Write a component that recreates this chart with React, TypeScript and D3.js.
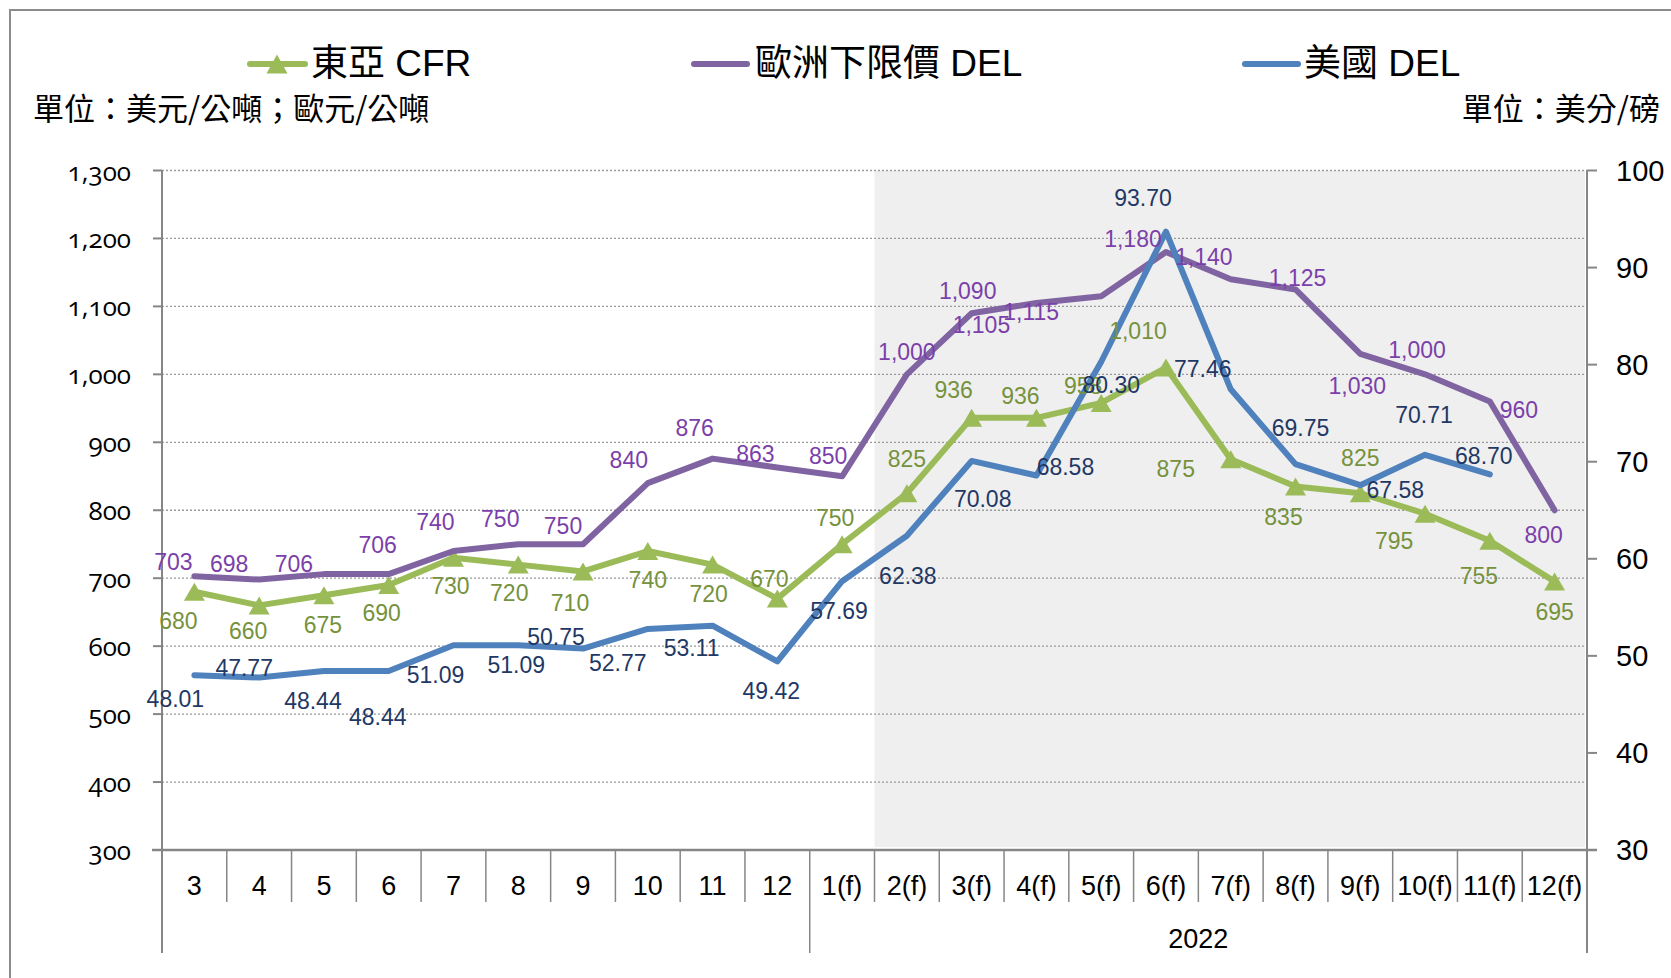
import * as d3 from "d3";

const categories = ["3", "4", "5", "6", "7", "8", "9", "10", "11", "12",
  "1(f)", "2(f)", "3(f)", "4(f)", "5(f)", "6(f)", "7(f)", "8(f)", "9(f)", "10(f)", "11(f)", "12(f)"];

// 東亞 CFR (left axis, USD/t)
const eastAsiaCFR = [680, 660, 675, 690, 730, 720, 710, 740, 720, 670,
  750, 825, 936, 936, 958, 1010, 875, 835, 825, 795, 755, 695];

// 歐洲下限價 DEL (left axis, EUR/t)
const europeDEL = [703, 698, 706, 706, 740, 750, 750, 840, 876, 863,
  850, 1000, 1090, 1105, 1115, 1180, 1140, 1125, 1030, 1000, 960, 800];

// 美國 DEL (right axis, cents/lb)
const usDEL: (number | null)[] = [48.01, 47.77, 48.44, 48.44, 51.09, 51.09, 50.75, 52.77, 53.11, 49.42,
  57.69, 62.38, 70.08, 68.58, 80.3, 93.7, 77.46, 69.75, 67.58, 70.71, 68.7, null];

const leftTicks = [300, 400, 500, 600, 700, 800, 900, 1000, 1100, 1200, 1300];
const rightTicks = [30, 40, 50, 60, 70, 80, 90, 100];
const yearLabel = "2022";
const forecastStart = "2(f)";

// label nudges (px) relative to each point, as placed in the original chart
const greenLabelPos = [[-16, 29], [-11, 26], [-1, 30], [-7, 28], [-3, 28], [-9, 28], [-13, 32], [0, 29], [-4, 29], [-8, -20],
  [-7, -26], [0, -34], [-18, -28], [-16, -22], [-18, -17], [-28, -37], [-55, 10], [-12, 31], [0, -35], [-31, 27], [-11, 35], [0, 30]];
const purpleLabelPos = [[-21, -14], [-30, -16], [-30, -10], [-11, -29], [-18, -29], [-18, -25], [-20, -18], [-19, -23], [-18, -31], [-22, -13],
  [-14, -20], [0, -22], [-4, -22], [-55, 22], [-70, 16], [-33, -13], [-27, -22], [2, -11], [-3, 32], [-8, -24], [29, 8], [-11, 25]];
const blueLabelPos = [[-19, 24], [-15, -10], [-11, 30], [-11, 46], [-18, 30], [-2, 20], [-27, -12], [-30, 34], [-21, 22], [-6, 30],
  [-3, 30], [1, 40], [11, 38], [29, -8], [10, 23], [-23, -34], [-28, -20], [5, -36], [35, 5], [-1, -40], [-6, -18], [0, 0]];

const W = 1671;
const H = 978;
const left = 162;
const right = 1587;
const top = 170.5;
const bottom = 850;

const GREEN = "#9BBB59";
const PURPLE = "#8064A2";
const BLUE = "#4F81BD";
const AXIS = "#868686";
const LATIN = "'Liberation Sans', Arial, 'Noto Sans CJK TC', sans-serif";
const CJK = "'Noto Sans CJK TC', 'Liberation Sans', sans-serif";

function triangle(cx: number, cy: number, w: number, h: number) {
  return `M${cx},${cy - h / 2}L${cx + w / 2},${cy + h / 2}L${cx - w / 2},${cy + h / 2}Z`;
}

export default function App() {
  const x = d3.scaleBand<string>().domain(categories).range([left, right]).padding(0);
  const cx = (c: string) => (x(c) ?? 0) + x.bandwidth() / 2;
  const yL = d3.scaleLinear().domain([300, 1300]).range([bottom, top]);
  const yR = d3.scaleLinear().domain([30, 100]).range([bottom, top]);

  const lineL = d3.line<number>().x((_, i) => cx(categories[i])).y(d => yL(d));
  const lineR = d3.line<number | null>()
    .defined(d => d != null)
    .x((_, i) => cx(categories[i]))
    .y(d => yR(d as number));

  const bounds = d3.range(categories.length + 1).map(k => left + k * x.bandwidth());
  const shadeX = x(forecastStart) ?? 0;
  const fmt = d3.format(",");

  return (
    <svg width={W} height={H} style={{ position: "absolute", left: 0, top: 0, display: "block", background: "#fff" }}>
      {/* outer frame */}
      <rect x={10} y={10} width={W + 20} height={H + 20} fill="none" stroke="#8c8c8c" strokeWidth={2} />

      {/* forecast shade */}
      <rect x={shadeX} y={top} width={right - shadeX - 2} height={bottom - top - 3} fill="#EFEFEF" />

      {/* gridlines */}
      {leftTicks.slice(1).map(t => (
        <line key={t} x1={left} x2={right} y1={yL(t)} y2={yL(t)} stroke="#9a9a9a" strokeWidth={1.3} strokeDasharray="2,2" />
      ))}

      {/* left axis */}
      <line x1={left} x2={left} y1={top} y2={953} stroke={AXIS} strokeWidth={2} />
      {leftTicks.map(t => (
        <g key={t}>
          <line x1={left - 9} x2={left} y1={yL(t)} y2={yL(t)} stroke={AXIS} strokeWidth={2} />
          <text x={131} y={yL(t)} textAnchor="end" dominantBaseline="central"
            style={{ fontFamily: "'Open Sans', 'Noto Sans', sans-serif", fontSize: 26, fontFeatureSettings: "'onum' 1", fontVariantNumeric: "oldstyle-nums" }}>
            {fmt(t)}
          </text>
        </g>
      ))}

      {/* right axis */}
      <line x1={right} x2={right} y1={top} y2={953} stroke={AXIS} strokeWidth={2} />
      {rightTicks.map(t => (
        <g key={t}>
          <line x1={right} x2={right + 10} y1={yR(t)} y2={yR(t)} stroke={AXIS} strokeWidth={2} />
          <text x={1616} y={yR(t)} dominantBaseline="central" style={{ fontFamily: LATIN, fontSize: 29 }}>{t}</text>
        </g>
      ))}

      {/* category axis */}
      <line x1={left - 10} x2={right + 10} y1={bottom} y2={bottom} stroke={AXIS} strokeWidth={2.5} />
      {bounds.map((bx, k) => (
        <line key={k} x1={bx} x2={bx} y1={bottom} y2={k === 0 || k === 10 || k === 22 ? 953 : 902}
          stroke={AXIS} strokeWidth={1.5} />
      ))}
      {categories.map(c => (
        <text key={c} x={cx(c)} y={886} textAnchor="middle" dominantBaseline="central"
          style={{ fontFamily: LATIN, fontSize: 27 }}>{c}</text>
      ))}
      <text x={(bounds[10] + bounds[22]) / 2} y={939} textAnchor="middle" dominantBaseline="central"
        style={{ fontFamily: LATIN, fontSize: 27 }}>{yearLabel}</text>

      {/* series */}
      <path d={lineL(eastAsiaCFR) ?? ""} fill="none" stroke={GREEN} strokeWidth={6} strokeLinejoin="round" />
      {eastAsiaCFR.map((v, i) => (
        <path key={i} d={triangle(cx(categories[i]), yL(v), 21, 18)} fill={GREEN} />
      ))}
      <path d={lineL(europeDEL) ?? ""} fill="none" stroke={PURPLE} strokeWidth={6} strokeLinejoin="round" strokeLinecap="round" />
      <path d={lineR(usDEL) ?? ""} fill="none" stroke={BLUE} strokeWidth={6} strokeLinejoin="round" strokeLinecap="round" />

      {/* data labels */}
      <g style={{ fontFamily: LATIN, fontSize: 23 }} textAnchor="middle" dominantBaseline="central">
        {eastAsiaCFR.map((v, i) => (
          <text key={"g" + i} x={cx(categories[i]) + greenLabelPos[i][0]} y={yL(v) + greenLabelPos[i][1]} fill="#76923C">{fmt(v)}</text>
        ))}
        {europeDEL.map((v, i) => (
          <text key={"p" + i} x={cx(categories[i]) + purpleLabelPos[i][0]} y={yL(v) + purpleLabelPos[i][1]} fill="#7B3FAA">{fmt(v)}</text>
        ))}
        {usDEL.map((v, i) => v == null ? null : (
          <text key={"b" + i} x={cx(categories[i]) + blueLabelPos[i][0]} y={yR(v) + blueLabelPos[i][1]} fill="#1F3864">{v.toFixed(2)}</text>
        ))}
      </g>

      {/* legend */}
      <line x1={250} x2={305} y1={64} y2={64} stroke={GREEN} strokeWidth={6} strokeLinecap="round" />
      <path d={triangle(277, 64, 21, 19)} fill={GREEN} />
      <text x={311} y={63} dominantBaseline="central" style={{ fontFamily: LATIN, fontSize: 37 }}>東亞 CFR</text>
      <line x1={694} x2={747} y1={64} y2={64} stroke={PURPLE} strokeWidth={6} strokeLinecap="round" />
      <text x={755} y={63} dominantBaseline="central" style={{ fontFamily: LATIN, fontSize: 37 }}>歐洲下限價 DEL</text>
      <line x1={1245} x2={1298} y1={64} y2={64} stroke={BLUE} strokeWidth={6} strokeLinecap="round" />
      <text x={1304} y={63} dominantBaseline="central" style={{ fontFamily: LATIN, fontSize: 37 }}>美國 DEL</text>

      {/* units */}
      <text x={33} y={106} dominantBaseline="central" style={{ fontFamily: CJK, fontSize: 31 }}>單位：美元/公噸；歐元/公噸</text>
      <text x={1660} y={106} textAnchor="end" dominantBaseline="central" style={{ fontFamily: CJK, fontSize: 31 }}>單位：美分/磅</text>
    </svg>
  );
}
